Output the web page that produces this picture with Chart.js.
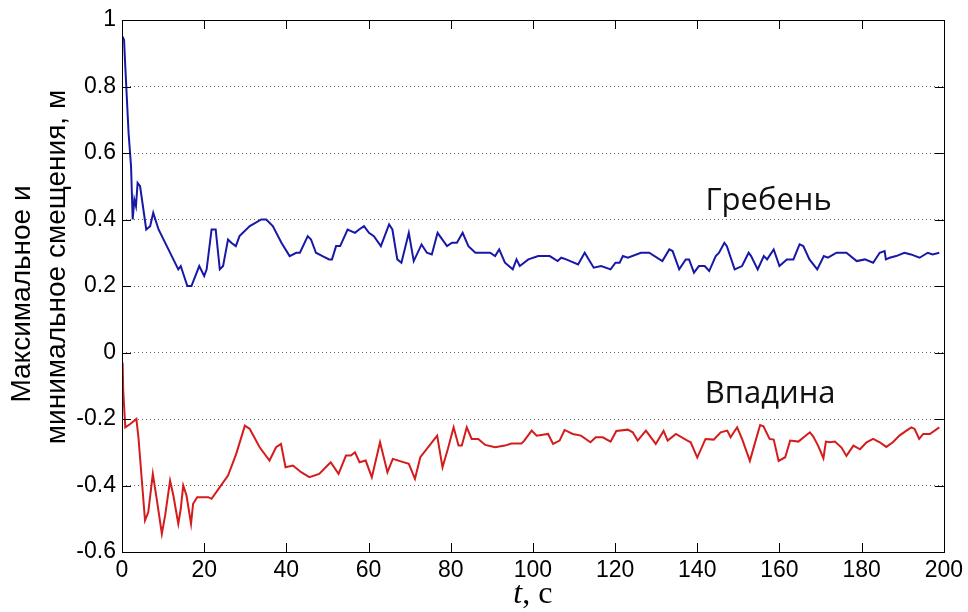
<!DOCTYPE html>
<html lang="ru">
<head>
<meta charset="UTF-8">
<title>Гребень и впадина</title>
<script src="https://cdn.jsdelivr.net/npm/chart.js"></script>
<style>
  html, body { margin: 0; padding: 0; background: #fff; }
  #wrap { width: 968px; height: 612px; }
</style>
</head>
<body>
<div id="wrap"><canvas id="chart" width="968" height="612"></canvas></div>
<script>
// crest (Гребень) - time, s and max displacement, m
const crestT = [0.15,0.5,0.8,1.6,2.2,2.6,3.0,3.4,3.8,4.4,5.9,6.85,7.6,8.9,11.3,13.7,14.3,15.9,16.9,18.8,20.0,20.6,21.8,22.8,23.8,24.6,25.8,26.6,27.7,28.6,31.1,33.9,35.1,36.7,38.8,40.8,42.4,43.3,45.2,46.0,47.2,48.8,50.4,51.1,52.1,53.1,54.9,56.7,57.7,58.9,60.1,61.3,63.0,65.0,65.8,67.0,68.0,69.8,71.0,72.9,74.2,75.4,76.8,79.1,80.3,81.5,82.9,84.3,86.0,89.6,90.8,91.8,93.2,95.1,96.0,96.8,98.9,101.3,104.1,106.0,106.9,108.1,111.0,112.6,114.8,116.6,118.9,120.1,121.1,121.9,123.1,126.3,128.3,131.5,133.2,134.0,135.6,137.2,138.0,139.2,140.4,141.8,142.9,144.5,145.3,146.6,147.2,149.1,150.9,152.5,153.1,154.7,156.2,157.0,158.6,160.0,161.8,163.4,164.9,165.8,167.3,169.2,170.8,171.8,173.9,176.3,178.8,180.8,182.8,184.4,185.6,185.9,186.8,188.4,190.4,192.0,194.1,196.1,197.3,198.9];
const crestY = [0.95,0.94,0.86,0.66,0.56,0.40,0.46,0.44,0.51,0.50,0.37,0.38,0.42,0.37,0.31,0.25,0.26,0.20,0.20,0.26,0.23,0.25,0.37,0.37,0.25,0.26,0.34,0.33,0.32,0.35,0.38,0.40,0.40,0.38,0.33,0.29,0.30,0.30,0.35,0.34,0.30,0.29,0.28,0.28,0.32,0.32,0.37,0.36,0.37,0.38,0.36,0.35,0.32,0.385,0.37,0.28,0.27,0.36,0.275,0.325,0.30,0.295,0.36,0.32,0.33,0.33,0.36,0.32,0.30,0.30,0.29,0.31,0.27,0.25,0.28,0.26,0.28,0.29,0.29,0.275,0.285,0.28,0.265,0.30,0.255,0.26,0.25,0.27,0.27,0.29,0.285,0.30,0.30,0.275,0.31,0.305,0.25,0.28,0.28,0.24,0.26,0.26,0.245,0.29,0.30,0.33,0.32,0.25,0.26,0.30,0.29,0.25,0.29,0.28,0.31,0.26,0.28,0.28,0.325,0.32,0.28,0.25,0.29,0.285,0.30,0.30,0.275,0.28,0.27,0.30,0.305,0.28,0.285,0.29,0.30,0.295,0.285,0.30,0.295,0.30];

// trough (Впадина) - time, s and min displacement, m
const troughT = [0.15,0.3,0.8,2.0,3.5,4.0,5.6,6.4,7.5,8.5,9.7,10.5,11.7,12.5,13.7,14.3,14.9,15.7,16.8,17.3,18.3,21.0,21.8,23.8,25.8,27.8,29.9,31.1,33.5,35.9,37.5,38.7,39.8,41.6,43.6,45.6,48.0,50.0,50.8,52.7,54.5,55.7,56.7,57.8,59.3,60.8,62.8,64.6,65.9,69.8,71.3,72.6,76.7,78.0,79.3,80.7,81.9,82.7,83.9,85.1,86.7,88.4,90.8,93.2,94.8,97.2,97.9,99.7,100.9,103.7,104.9,106.5,107.7,109.7,111.7,114.0,115.3,117.0,118.9,120.3,123.1,124.3,125.5,127.5,129.9,131.8,132.8,134.8,137.6,138.4,140.0,142.0,144.0,145.7,147.3,148.1,149.7,150.9,152.8,154.2,155.3,156.1,157.6,158.6,159.8,161.4,162.6,164.6,167.4,168.2,169.4,170.7,171.3,172.3,173.5,175.1,176.3,178.0,179.6,181.2,182.8,184.4,186.0,187.6,189.2,190.9,192.1,192.9,194.0,195.0,196.6,198.9];
const troughY = [-0.03,-0.115,-0.225,-0.215,-0.20,-0.255,-0.505,-0.48,-0.365,-0.445,-0.545,-0.49,-0.385,-0.43,-0.515,-0.47,-0.40,-0.43,-0.515,-0.455,-0.435,-0.435,-0.44,-0.405,-0.37,-0.305,-0.22,-0.23,-0.285,-0.325,-0.285,-0.275,-0.345,-0.34,-0.36,-0.375,-0.365,-0.34,-0.33,-0.365,-0.31,-0.31,-0.30,-0.33,-0.325,-0.375,-0.27,-0.36,-0.32,-0.335,-0.38,-0.315,-0.25,-0.345,-0.29,-0.225,-0.28,-0.28,-0.225,-0.26,-0.26,-0.278,-0.285,-0.28,-0.274,-0.274,-0.265,-0.235,-0.25,-0.245,-0.275,-0.265,-0.233,-0.245,-0.25,-0.27,-0.255,-0.255,-0.268,-0.236,-0.232,-0.24,-0.265,-0.235,-0.275,-0.236,-0.265,-0.245,-0.265,-0.27,-0.316,-0.26,-0.262,-0.24,-0.235,-0.255,-0.225,-0.26,-0.326,-0.265,-0.218,-0.222,-0.26,-0.262,-0.326,-0.315,-0.265,-0.268,-0.24,-0.252,-0.28,-0.318,-0.268,-0.27,-0.268,-0.286,-0.311,-0.28,-0.291,-0.27,-0.26,-0.27,-0.284,-0.27,-0.25,-0.235,-0.225,-0.23,-0.26,-0.245,-0.245,-0.225];

const xTicks = [0,20,40,60,80,100,120,140,160,180,200];
const yTicks = [-0.6,-0.4,-0.2,0,0.2,0.4,0.6,0.8,1];

const toPoints = (xs, ys) => xs.map((x, i) => ({x: x, y: ys[i]}));

// frame, inward ticks, curve labels and axis titles
const decorations = {
    id: 'decorations',
    afterDraw(chart) {
        const ctx = chart.ctx;
        const a = chart.chartArea;
        const xs = chart.scales.x, ys = chart.scales.y;
        ctx.save();
        ctx.strokeStyle = '#000';
        ctx.lineWidth = 1;
        ctx.strokeRect(Math.round(a.left) + 0.5, Math.round(a.top) + 0.5,
            Math.round(a.right - a.left), Math.round(a.bottom - a.top));
        ctx.beginPath();
        xTicks.forEach(v => {
            const px = Math.round(xs.getPixelForValue(v)) + 0.5;
            ctx.moveTo(px, a.bottom); ctx.lineTo(px, a.bottom - 9);
            ctx.moveTo(px, a.top); ctx.lineTo(px, a.top + 9);
        });
        yTicks.forEach(v => {
            const py = Math.round(ys.getPixelForValue(v)) + 0.5;
            ctx.moveTo(a.left, py); ctx.lineTo(a.left + 9, py);
            ctx.moveTo(a.right, py); ctx.lineTo(a.right - 9, py);
        });
        ctx.stroke();

        // curve labels
        ctx.fillStyle = '#111';
        ctx.textAlign = 'left';
        ctx.textBaseline = 'alphabetic';
        ctx.font = '31px "Open Sans", "Noto Sans", sans-serif';
        ctx.fillText('Гребень', xs.getPixelForValue(142), ys.getPixelForValue(0.428));
        ctx.fillText('Впадина', xs.getPixelForValue(141.8), ys.getPixelForValue(-0.151));

        // y axis title, two lines
        ctx.fillStyle = '#000';
        ctx.font = '28px "Liberation Sans", Arial, sans-serif';
        ctx.textAlign = 'center';
        ctx.textBaseline = 'middle';
        ctx.save();
        ctx.translate(22, 294);
        ctx.rotate(-Math.PI / 2);
        ctx.fillText('Максимальное и', 0, 0);
        ctx.restore();
        ctx.save();
        ctx.translate(57, 267);
        ctx.rotate(-Math.PI / 2);
        ctx.fillText('минимальное смещения, м', 0, 0);
        ctx.restore();

        // x axis title
        ctx.textBaseline = 'alphabetic';
        ctx.textAlign = 'left';
        const p1 = 'italic 32px "Liberation Serif", "Times New Roman", serif';
        const p2 = '32px "Liberation Serif", "Times New Roman", serif';
        ctx.font = p1;
        const w1 = ctx.measureText('t').width;
        ctx.font = p2;
        const w2 = ctx.measureText(', с').width;
        const cx = (a.left + a.right) / 2;
        let x0 = cx - (w1 + w2) / 2;
        ctx.font = p1;
        ctx.fillText('t', x0, 603);
        ctx.font = p2;
        ctx.fillText(', с', x0 + w1, 603);
        ctx.restore();
    }
};

new Chart(document.getElementById('chart'), {
    type: 'line',
    data: {
        datasets: [{
            label: 'Гребень',
            data: toPoints(crestT, crestY),
            borderColor: '#1818a8',
            borderWidth: 2,
            pointRadius: 0,
            tension: 0
        }, {
            label: 'Впадина',
            data: toPoints(troughT, troughY),
            borderColor: '#d41c1c',
            borderWidth: 2,
            pointRadius: 0,
            tension: 0
        }]
    },
    options: {
        responsive: false,
        animation: false,
        layout: { padding: { top: 20, right: 20, left: 0, bottom: 0 } },
        plugins: { legend: { display: false }, tooltip: { enabled: false } },
        scales: {
            x: {
                type: 'linear',
                min: 0, max: 200,
                afterFit: s => { s.height = 60; },
                afterBuildTicks: s => { s.ticks = xTicks.map(v => ({value: v})); },
                grid: { display: false, drawTicks: false },
                border: { display: false },
                ticks: {
                    padding: 5,
                    color: '#000',
                    font: { family: '"Liberation Sans", Arial, sans-serif', size: 23 },
                    maxRotation: 0
                }
            },
            y: {
                min: -0.6, max: 1,
                afterFit: s => { s.width = 122; },
                afterBuildTicks: s => { s.ticks = yTicks.map(v => ({value: v})); },
                grid: { color: '#666', lineWidth: 1, drawTicks: false },
                border: { display: false, dash: [1, 3] },
                ticks: {
                    padding: 6,
                    color: '#000',
                    font: { family: '"Liberation Sans", Arial, sans-serif', size: 23 },
                    callback: v => String(+(+v).toFixed(1))
                }
            }
        }
    },
    plugins: [decorations]
});
</script>
</body>
</html>
